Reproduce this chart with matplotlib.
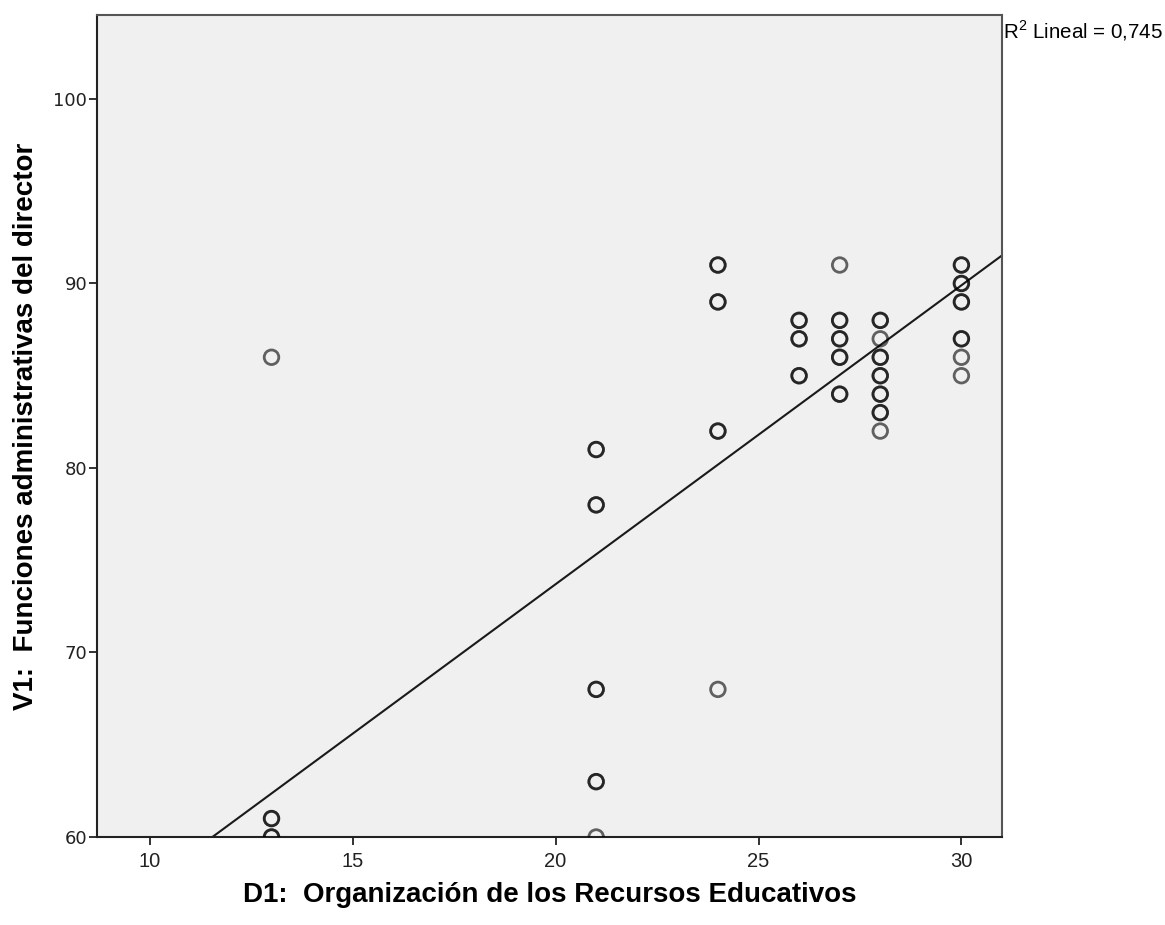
import numpy as np
import matplotlib
matplotlib.use("Agg")
import matplotlib.pyplot as plt

# D1 scores (x) and V1 scores (y); repeated pairs are repeated cases
d1_org = [13, 13, 13, 13, 13,
          21, 21, 21, 21, 21, 21, 21, 21, 21,
          24, 24, 24, 24, 24, 24, 24,
          26, 26, 26, 26, 26, 26,
          27, 27, 27, 27, 27, 27, 27, 27, 27,
          28, 28, 28, 28, 28, 28, 28, 28, 28, 28, 28, 28,
          30, 30, 30, 30, 30, 30, 30, 30, 30, 30]
v1_func = [86, 61, 61, 60, 60,
           81, 81, 78, 78, 68, 68, 63, 63, 60,
           91, 91, 89, 89, 82, 82, 68,
           88, 88, 87, 87, 85, 85,
           91, 88, 88, 87, 87, 86, 86, 84, 84,
           88, 88, 87, 86, 86, 85, 85, 84, 84, 83, 83, 82,
           91, 91, 90, 90, 89, 89, 87, 87, 86, 85]

# linear fit (intercept, slope) and its R squared
fit_intercept = 41.3
fit_slope = 1.62
r2_text = "0,745"

x_ticks = [10, 15, 20, 25, 30]
y_ticks = [60, 70, 80, 90, 100]
x_lim = (8.7, 31.0)
y_lim = (60, 104.55)

plt.rcParams["mathtext.fontset"] = "custom"
plt.rcParams["mathtext.rm"] = "Liberation Sans"

fig = plt.figure(figsize=(11.65, 9.25), dpi=100)
fig.patch.set_facecolor("white")
ax = fig.add_axes([97 / 1165, 88 / 925, 905 / 1165, 822 / 925])
ax.set_facecolor("#f0f0f0")

# single cases show grey, stacked cases add up to near black
ax.scatter(d1_org, v1_func, s=110, facecolors="none",
           edgecolors=(0, 0, 0, 0.6), linewidths=2.0, zorder=3)

xs = np.array(x_lim)
ax.plot(xs, fit_intercept + fit_slope * xs, color="#1a1a1a", lw=1.5, zorder=2)

ax.set_xlim(*x_lim)
ax.set_ylim(*y_lim)
ax.set_xticks(x_ticks)
ax.set_yticks(y_ticks)
ax.set_xticklabels([str(t) for t in x_ticks], fontfamily="Liberation Sans", fontsize=14.5,
                   color="#222222")
ax.set_yticklabels([str(t) for t in y_ticks], fontfamily="DejaVu Sans", fontsize=13,
                   color="#222222")
ax.tick_params(direction="out", length=6, width=1.3, color="#222222")
ax.tick_params(axis="x", pad=5)
ax.tick_params(axis="y", pad=1)

for side in ["left", "bottom"]:
    ax.spines[side].set_color("#222222")
    ax.spines[side].set_linewidth(1.5)
for side in ["top", "right"]:
    ax.spines[side].set_color("#555555")
    ax.spines[side].set_linewidth(1.5)

ax.set_xlabel("D1:  Organización de los Recursos Educativos",
              fontfamily="Liberation Sans", fontweight="bold", fontsize=20)
ax.set_ylabel("V1:  Funciones administrativas del director",
              fontfamily="Liberation Sans", fontweight="bold", fontsize=20)
ax.xaxis.set_label_coords(0.5, -0.055)
ax.yaxis.set_label_coords(-0.064, 0.5)

fig.text(1003 / 1165, 1 - 31 / 925, r"R$^2$ Lineal = " + r2_text,
         fontfamily="Liberation Sans", fontsize=14.8, ha="left", va="center")

fig.savefig("out.png", dpi=100, facecolor="white")
